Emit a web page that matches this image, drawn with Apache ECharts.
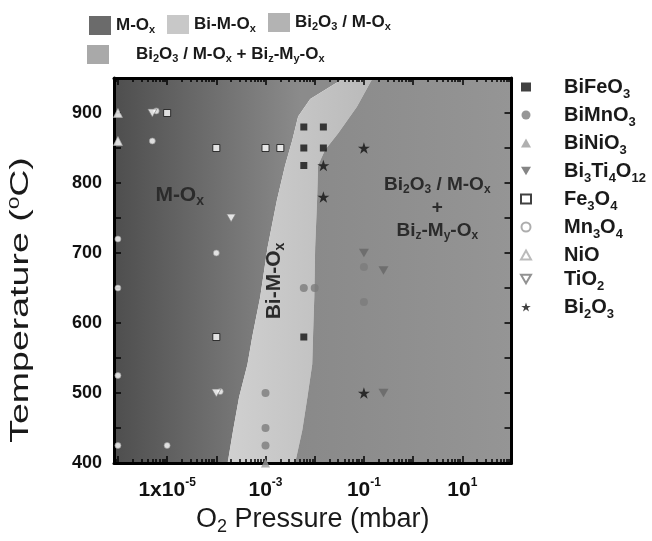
<!DOCTYPE html>
<html><head><meta charset="utf-8">
<script src="https://cdn.jsdelivr.net/npm/echarts@6/dist/echarts.min.js"></script>
<style>html,body{margin:0;padding:0;background:#fff}#c{width:652px;height:541px}</style>
</head><body><div id="c"></div>
<script>
const FONT = "'Liberation Sans', Arial, Helvetica, sans-serif";

// ---- axes (x in log10(mbar), y in °C) ----
const xMinExp = -6.08, xMaxExp = 2.0;
const yMin = 400, yMax = 950, yStep = 50;
const xMajorExps = [-6, -5, -4, -3, -2, -1, 0, 1, 2];
const xLabelExps = [-5, -3, -1, 1];
const xLabelMant = ['1x10', '10', '10', '10'];
const xLabelPow = ['-5', '-3', '-1', '1'];
const yLabelValues = [400, 500, 600, 700, 800, 900];

// ---- phase boundaries of the Bi-M-Ox band (mbar, °C) ----
const bandLeftP = [0.0398, 8.1e-3, 4.6e-3, 3.5e-3, 2.5e-3, 1.7e-3, 1.1e-3, 7.8e-4, 5.4e-4, 4.3e-4, 2.9e-4, 2.2e-4, 1.7e-4];
const bandLeftT = [950, 920, 895, 861, 825, 775, 708, 637, 581, 541, 494, 447, 400];
const bandRightP = [4.0e-3, 5.6e-3, 7.1e-3, 8.9e-3, 9.3e-3, 9.8e-3, 1.02e-2, 1.12e-2, 1.17e-2, 1.62e-2, 3.0e-2, 7.2e-2, 0.151];
const bandRightT = [400, 447, 494, 541, 588, 637, 708, 778, 825, 847, 871, 909, 950];

// ---- measured points [pressure mbar, temperature °C] ----
const BiFeO3 = [[6e-3, 880], [1.5e-2, 880], [6e-3, 850], [1.5e-2, 850], [6e-3, 825], [6e-3, 580]];
const BiMnO3 = [[6e-3, 650], [1e-2, 650], [1e-3, 500], [1e-3, 450], [1e-3, 425], [0.1, 680], [0.1, 630]];
const BiNiO3 = [[1e-3, 400]];
const Bi3Ti4O12 = [[0.1, 700], [0.25, 675], [0.25, 500]];
const Fe3O4 = [[1e-5, 900], [1e-4, 850], [1e-3, 850], [2e-3, 850], [1e-4, 580]];
const Mn3O4 = [[1e-6, 720], [1e-6, 650], [1e-6, 525], [1e-6, 425], [1e-5, 425], [1e-4, 700], [5e-6, 860], [6e-6, 903], [1.2e-4, 502]];
const NiO = [[1e-6, 900], [1e-6, 860]];
const TiO2 = [[5e-6, 900], [2e-4, 750], [1e-4, 500]];
const Bi2O3 = [[1.5e-2, 825], [1.5e-2, 780], [0.1, 850], [0.1, 500]];

// ---- in-plot annotations ----
const noteP = [1.8e-5, 1.48e-3, 3.1];
const noteT = [782, 660, 765];
const noteText = [
  '{a|M-O}{s|x}',
  '{a|Bi-M-O}{s|x}',
  '{b|Bi}{t|2}{b|O}{t|3}{b| / M-O}{t|x}\n{b|+}\n{b|Bi}{t|z}{b|-M}{t|y}{b|-O}{t|x}'
];
const noteRot = [0, Math.PI / 2, 0];

const regionNames = ['M-Ox', 'Bi-M-Ox', 'Bi2O3 / M-Ox', 'Bi2O3 / M-Ox + Biz-My-Ox'];
const regionLegendText = ['{a|M-O}{s|x}', '{a|Bi-M-O}{s|x}', '{a|Bi}{s|2}{a|O}{s|3}{a| / M-O}{s|x}', '{a|Bi}{s|2}{a|O}{s|3}{a| / M-O}{s|x}{a| + Bi}{s|z}{a|-M}{s|y}{a|-O}{s|x}'];
const seriesNames = ['BiFeO3', 'BiMnO3', 'BiNiO3', 'Bi3Ti4O12', 'Fe3O4', 'Mn3O4', 'NiO', 'TiO2', 'Bi2O3'];
const seriesLegendText = ['{a|BiFeO}{s|3}', '{a|BiMnO}{s|3}', '{a|BiNiO}{s|3}', '{a|Bi}{s|3}{a|Ti}{s|4}{a|O}{s|12}', '{a|Fe}{s|3}{a|O}{s|4}', '{a|Mn}{s|3}{a|O}{s|4}', '{a|NiO}', '{a|TiO}{s|2}', '{a|Bi}{s|2}{a|O}{s|3}'];

const xMinorExps = [];
for (let e = -7; e <= 2; e++) for (let k = 2; k <= 9; k++) {
  const v = e + Math.log10(k);
  if (v > xMinExp && v < xMaxExp) xMinorExps.push(v);
}

const toXY = arr => arr.map(d => [Math.log10(d[0]), d[1]]);
function boundary(api, P, T) { return P.map((p, i) => api.coord([Math.log10(p), T[i]])); }

const STAR = 'path://M50,0 L61.8,35.1 L98.9,35.1 L68.9,56.9 L80.3,91.9 L50,70.2 L19.7,91.9 L31.1,56.9 L1.1,35.1 L38.2,35.1 Z';
const TRI_DOWN = 'path://M0,0 L10,0 L5,8.66 Z';

const chart = echarts.init(document.getElementById('c'), null, {renderer: 'canvas'});

function regionSeries(name, color, render) {
  return {type: 'custom', name, coordinateSystem: 'cartesian2d', z: 1, silent: true, clip: true,
    itemStyle: {color}, data: render ? [0] : [], renderItem: render || (() => null)};
}

const series = [
  regionSeries(regionNames[0], '#6b6b6b', (params, api) => {
    const cs = params.coordSys;
    const pts = [[cs.x, cs.y]].concat(boundary(api, bandLeftP, bandLeftT), [[cs.x, cs.y + cs.height]]);
    return {type: 'polygon', shape: {points: pts}, style: {fill: new echarts.graphic.LinearGradient(cs.x, 0, cs.x + cs.width * 0.47, 0,
      [{offset: 0, color: '#4e4e4e'}, {offset: 1, color: '#8b8b8b'}], true)}};
  }),
  regionSeries(regionNames[1], '#c8c8c8', (params, api) => {
    const pts = boundary(api, bandLeftP, bandLeftT).concat(boundary(api, bandRightP, bandRightT));
    return {type: 'polygon', shape: {points: pts}, style: {fill: new echarts.graphic.LinearGradient(0, 0, 1, 0,
      [{offset: 0, color: '#d0d0d0'}, {offset: 1, color: '#bababa'}])}};
  }),
  regionSeries(regionNames[2], '#b3b3b3', null),
  regionSeries(regionNames[3], '#a9a9a9', (params, api) => {
    const cs = params.coordSys;
    const pts = boundary(api, bandRightP, bandRightT).concat([[cs.x + cs.width, cs.y], [cs.x + cs.width, cs.y + cs.height]]);
    return {type: 'polygon', shape: {points: pts}, style: {fill: new echarts.graphic.LinearGradient(0, 0, 1, 0,
      [{offset: 0, color: '#898989'}, {offset: 1, color: '#959595'}])}};
  }),
  {type: 'custom', name: 'notes', coordinateSystem: 'cartesian2d', z: 2, silent: true,
    data: noteP.map((p, i) => [Math.log10(p), noteT[i]]),
    renderItem: (params, api) => {
      const i = params.dataIndex;
      const pt = api.coord([api.value(0), api.value(1)]);
      return {type: 'text', x: pt[0], y: pt[1], rotation: noteRot[i], style: {
        text: noteText[i], align: 'center', verticalAlign: 'middle', fill: '#2b2b2b',
        rich: {
          a: {fontFamily: FONT, fontWeight: 'bold', fontSize: 21, lineHeight: 26, fill: '#2b2b2b'},
          s: {fontFamily: FONT, fontWeight: 'bold', fontSize: 14, lineHeight: 12, verticalAlign: 'bottom', fill: '#2b2b2b'},
          b: {fontFamily: FONT, fontWeight: 'bold', fontSize: 19, lineHeight: 23, fill: '#2b2b2b'},
          t: {fontFamily: FONT, fontWeight: 'bold', fontSize: 12, lineHeight: 9, verticalAlign: 'bottom', fill: '#2b2b2b'}
        }}};
    }}
];

const scatterDefs = [
  [BiFeO3, 'rect', 7, {color: '#111'}],
  [BiMnO3, 'circle', 8, {color: '#7c7c7c'}],
  [BiNiO3, 'triangle', 9, {color: '#9c9c9c'}],
  [Bi3Ti4O12, TRI_DOWN, 10, {color: '#666'}],
  [Fe3O4, 'rect', 7, {color: '#fff', borderColor: '#111', borderWidth: 1}],
  [Mn3O4, 'circle', 6, {color: '#fff', borderColor: '#999', borderWidth: 0.8}],
  [NiO, 'triangle', 9, {color: '#fff', borderColor: '#aaa', borderWidth: 0.8}],
  [TiO2, TRI_DOWN, 9, {color: '#fff', borderColor: '#777', borderWidth: 0.8}],
  [Bi2O3, STAR, 12, {color: '#111'}]
];
const zOrder = [12, 12, 12, 12, 12, 11, 12, 13, 12];
scatterDefs.forEach((d, i) => {
  series.push({type: 'scatter', name: seriesNames[i], data: toXY(d[0]), symbol: d[1], symbolSize: d[2],
    symbolKeepAspect: true, itemStyle: d[3], z: zOrder[i], silent: true, emphasis: {disabled: true}, clip: false});
});

const topLegendRich = {
  a: {fontFamily: FONT, fontWeight: 'bold', fontSize: 17, lineHeight: 20, color: '#1a1a1a'},
  s: {fontFamily: FONT, fontWeight: 'bold', fontSize: 11, lineHeight: 10, verticalAlign: 'bottom', color: '#1a1a1a'}
};
const sideLegendRich = {
  a: {fontFamily: FONT, fontWeight: 'bold', fontSize: 20, lineHeight: 28, color: '#1a1a1a'},
  s: {fontFamily: FONT, fontWeight: 'bold', fontSize: 13, lineHeight: 9, verticalAlign: 'bottom', color: '#1a1a1a'}
};
function topLegend(idx, left, top, pad) {
  return {data: [regionNames[idx]], left, top, padding: 0, itemWidth: 22, itemHeight: 19, icon: 'rect',
    selectedMode: false, formatter: () => regionLegendText[idx],
    textStyle: {rich: topLegendRich, padding: [0, 0, 0, pad || 0]}};
}

const axisLineStyle = {show: true, onZero: false, lineStyle: {color: '#000', width: 3}};
const tickStyle = {color: '#000', width: 1.5};
function xAx(position, major, labels) {
  const ax = {type: 'value', min: xMinExp, max: xMaxExp, position, z: 10,
    axisLine: major ? axisLineStyle : {show: false, onZero: false},
    axisTick: {show: true, inside: true, length: major ? 7 : 4, lineStyle: tickStyle, customValues: major ? xMajorExps : xMinorExps},
    axisLabel: {show: false}, splitLine: {show: false}};
  if (labels) {
    ax.axisLabel = {show: true, customValues: xLabelExps, margin: 14,
      formatter: v => { const i = xLabelExps.indexOf(Math.round(v)); return i < 0 ? '' : '{m|' + xLabelMant[i] + '}{p|' + xLabelPow[i] + '}'; },
      rich: {m: {fontFamily: FONT, fontWeight: 'bold', fontSize: 21, lineHeight: 26, color: '#111'},
             p: {fontFamily: FONT, fontWeight: 'bold', fontSize: 12, lineHeight: 16, verticalAlign: 'top', color: '#111'}}};
    ax.name = '{m|O}{s|2}{m| Pressure (mbar)}';
    ax.nameLocation = 'middle';
    ax.nameGap = 41;
    ax.nameMoveOverlap = false;
    ax.nameTextStyle = {rich: {m: {fontFamily: FONT, fontSize: 27, lineHeight: 32, color: '#1a1a1a'},
      s: {fontFamily: FONT, fontSize: 18, lineHeight: 22, verticalAlign: 'bottom', color: '#1a1a1a'}}};
  }
  return ax;
}
function yAx(position, labels) {
  return {type: 'value', min: yMin, max: yMax, interval: yStep, position, z: 10,
    axisLine: axisLineStyle,
    axisTick: {show: true, inside: true, length: 7, lineStyle: tickStyle},
    axisLabel: labels ? {show: true, margin: 12, fontFamily: FONT, fontWeight: 'bold', fontSize: 18, color: '#111',
      formatter: v => yLabelValues.indexOf(v) >= 0 ? String(v) : ''} : {show: false},
    splitLine: {show: false}};
}

chart.setOption({
  animation: false,
  textStyle: {fontFamily: FONT},
  grid: {left: 114, right: 140.5, top: 78, bottom: 72.5, containLabel: false},
  xAxis: [xAx('bottom', true, true), xAx('bottom', false, false), xAx('top', true, false), xAx('top', false, false)],
  yAxis: [yAx('left', true), yAx('right', false)],
  legend: [
    topLegend(0, 89, 16),
    topLegend(1, 167, 15),
    topLegend(2, 268, 13),
    topLegend(3, 87, 45, 22),
    {data: seriesNames, orient: 'vertical', left: 520, top: 77, padding: 0, itemWidth: 10, itemHeight: 9, itemGap: 4,
      symbolKeepAspect: true, selectedMode: false, formatter: name => seriesLegendText[seriesNames.indexOf(name)],
      textStyle: {rich: sideLegendRich, padding: [0, 0, 0, 28]}}
  ],
  graphic: [{type: 'text', x: 21, y: 300, rotation: Math.PI / 2, scaleX: 1.5, scaleY: 1, silent: true, z: 10,
    style: {text: '{m|Temperature (}{p|0}{m|C)}', align: 'center', verticalAlign: 'middle', fill: '#1a1a1a',
      rich: {m: {fontFamily: FONT, fontSize: 25, lineHeight: 28, fill: '#1a1a1a'},
             p: {fontFamily: FONT, fontSize: 15, lineHeight: 14, verticalAlign: 'top', fill: '#1a1a1a'}}}}],
  series
});
</script></body></html>
